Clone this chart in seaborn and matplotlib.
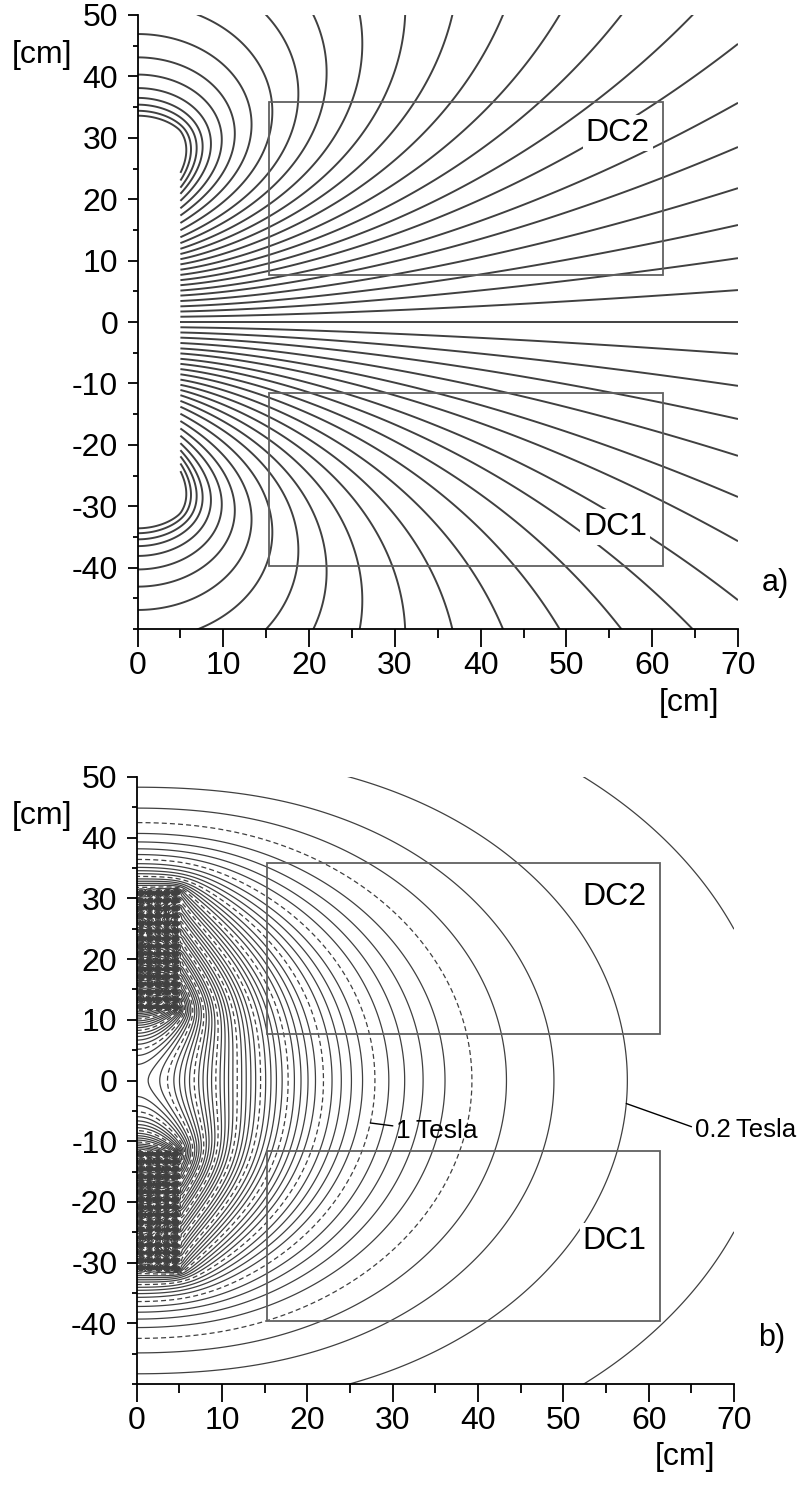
import numpy as np
import matplotlib
matplotlib.use("Agg")
import matplotlib.pyplot as plt
from matplotlib.patches import Rectangle
from matplotlib.ticker import MultipleLocator
import seaborn as sns

sns.set_theme(style="ticks")
plt.rcParams['font.family'] = ['Liberation Sans', 'DejaVu Sans']
plt.rcParams['axes.unicode_minus'] = False

# ------------------------------------------------------------------
# Data
# ------------------------------------------------------------------
# coil winding (axial extent = horizontal axis, radial extent = vertical axis), cm
COIL_Z_RANGE = (-5.0, 5.0)
COIL_R_RANGE = (11.5, 31.5)
COIL_NZ, COIL_NR = 10, 16
# calibration: the 0.2 T contour crosses the axis at x = 57.5 cm
CAL_X, CAL_B = 57.5, 0.2

# panel a: field lines start on the face x = 5 cm; where they leave the frame
FACE_X = 5.0
RIGHT_EXIT_Y = [5.2, 10.4, 15.8, 21.8, 28.5, 35.7, 45.3]           # at x = 70
TOP_EXIT_X = [7.1, 15.0, 20.5, 25.9, 31.2, 36.7, 42.6, 49.2, 56.4, 64.7]  # at |y| = 50
AXIS_RETURN_Y = [33.6, 34.4, 35.4, 36.5, 38.1, 40.3, 43.1, 46.9]    # at x = 0

# drift chambers
DC_X = (15.3, 61.3)
DC2_Y = (7.6, 35.8)
DC1_Y = (-39.7, -11.6)

# panel b: |B| contour levels (Tesla)
B_STEP = 0.1
B_MAX = 8.0
B_DASH_EVERY = 0.5
LABEL_1T = (1.0, -7.0)     # (level, y where the leader touches)
LABEL_02T = (0.2, -3.8)

XLIM = (0, 70)
YLIM = (-50, 50)

LINE_COL = "#404040"
BOX_COL = "#606060"
FS = 23


# ------------------------------------------------------------------
# Field model: axisymmetric coil built from circular current loops
# ------------------------------------------------------------------
def ellipke(m):
    a = np.ones_like(m)
    b = np.sqrt(1.0 - m)
    c = np.sqrt(m)
    s = 0.5 * c ** 2
    p = 1.0
    for _ in range(14):
        a, b, c = (a + b) / 2.0, np.sqrt(a * b), (a - b) / 2.0
        p *= 2.0
        s = s + 0.5 * p * c ** 2
    K = np.pi / (2.0 * a)
    return K, K * (1.0 - s)


def coil_field(X, Y):
    R = np.maximum(np.abs(Y), 1e-3)
    z0, z1 = COIL_Z_RANGE
    r0, r1 = COIL_R_RANGE
    zc = z0 + (np.arange(COIL_NZ) + 0.5) / COIL_NZ * (z1 - z0)
    rc = r0 + (np.arange(COIL_NR) + 0.5) / COIL_NR * (r1 - r0)
    psi = np.zeros_like(R)
    Bz = np.zeros_like(R)
    Br = np.zeros_like(R)
    for a in rc:
        for zz in zc:
            z = X - zz
            s = a * a + R ** 2 + z ** 2
            al2 = s - 2 * a * R
            be2 = s + 2 * a * R
            be = np.sqrt(be2)
            m = np.clip(1.0 - al2 / be2, 0.0, 1 - 1e-12)
            K, E = ellipke(m)
            Bz += (E * (a * a - R ** 2 - z ** 2) + al2 * K) / (2 * al2 * be)
            Br += z * (E * s - al2 * K) / (2 * al2 * be * R)
            k = np.sqrt(np.maximum(m, 1e-30))
            psi += R * np.sqrt(a / R) * ((1 - m / 2) * K - E) / k
    return psi, Bz, Br


xs = np.arange(XLIM[0], XLIM[1] + 0.01, 0.2)
rs = np.arange(0.1, 50.2, 0.2)
ys = np.concatenate([-rs[::-1], rs])
X, Y = np.meshgrid(xs, ys)
PSI, BZ, BR = coil_field(X, Y)

_, bzc, brc = coil_field(np.array([CAL_X]), np.array([0.0]))
scale = CAL_B / np.hypot(bzc, brc)[0]
BMAG = np.hypot(BZ, BR) * scale

# ------------------------------------------------------------------
# Figure
# ------------------------------------------------------------------
W, H = 798, 1486
fig = plt.figure(figsize=(W / 100, H / 100), dpi=100)
ax_a = fig.add_axes([137.5 / W, 1 - 629 / H, (738 - 137.5) / W, (629 - 15) / H])
ax_b = fig.add_axes([136.7 / W, 1 - 1384 / H, (734 - 136.7) / W, (1384 - 777) / H])


def style_axes(ax):
    ax.set_xlim(*XLIM)
    ax.set_ylim(*YLIM)
    sns.despine(ax=ax)
    ax.set_facecolor("white")
    for sp in ("left", "bottom"):
        ax.spines[sp].set_linewidth(1.3)
        ax.spines[sp].set_color("black")
    ax.set_xticks(np.arange(0, 71, 10))
    ax.set_yticks(np.arange(-40, 51, 10))
    ax.xaxis.set_minor_locator(MultipleLocator(5))
    ax.yaxis.set_minor_locator(MultipleLocator(5))
    ax.tick_params(axis="x", which="major", length=13, width=1.3, pad=3,
                   labelsize=FS, color="black", labelcolor="black")
    ax.tick_params(axis="x", which="minor", length=6.5, width=1.3, color="black")
    ax.tick_params(axis="y", which="major", length=7, width=1.3, pad=7,
                   labelsize=FS, color="black", labelcolor="black")
    ax.tick_params(axis="y", which="minor", length=3.6, width=1.3, color="black")
    ax.grid(False)
    ax.text(-11.1, 43.5, "[cm]", fontsize=FS, ha="center", va="center",
            clip_on=False, color="black")
    ax.text(64.3, -62.0, "[cm]", fontsize=FS, ha="center", va="center",
            clip_on=False, color="black")
    for (y0, y1) in (DC2_Y, DC1_Y):
        ax.add_patch(Rectangle((DC_X[0], y0), DC_X[1] - DC_X[0], y1 - y0,
                               fill=False, edgecolor=BOX_COL, lw=1.3, zorder=3))


# ---------------- panel a: field lines ----------------
style_axes(ax_a)
pts_x = np.array([XLIM[1]] * len(RIGHT_EXIT_Y) + TOP_EXIT_X + [0.0] * len(AXIS_RETURN_Y))
pts_y = np.array(RIGHT_EXIT_Y + [YLIM[1]] * len(TOP_EXIT_X) + AXIS_RETURN_Y)
lev_a, _, _ = coil_field(pts_x, pts_y)
lev_a = np.unique(np.sort(lev_a))

# radius of the flux maximum on the mid-plane (centre of the closed loops)
r_o = rs[np.argmax(PSI[len(rs):, 0])]
PSI_M = np.ma.masked_where((X < FACE_X) & (np.abs(Y) < r_o), PSI)
ax_a.contour(X, Y, PSI_M, levels=lev_a, colors=LINE_COL, linewidths=1.4,
             linestyles="solid")
ax_a.hlines(0, FACE_X, XLIM[1], colors=LINE_COL, linewidth=1.4)

bb = dict(facecolor="white", edgecolor="none", pad=2)
ax_a.text(56.0, 30.8, "DC2", fontsize=FS, ha="center", va="center", bbox=bb, zorder=4,
          color="black")
ax_a.text(55.7, -33.4, "DC1", fontsize=FS, ha="center", va="center", bbox=bb, zorder=4,
          color="black")
ax_a.text(72.8, -42.5, "a)", fontsize=22, ha="left", va="center", clip_on=False,
          color="black")

# ---------------- panel b: |B| contours ----------------
style_axes(ax_b)
n_lev = int(round(B_MAX / B_STEP))
lev_b = np.round(B_STEP * np.arange(1, n_lev + 1), 3)
ls_b = [(0, (4, 2.5)) if abs(l / B_DASH_EVERY - round(l / B_DASH_EVERY)) < 1e-6
        else "solid" for l in lev_b]
ax_b.contour(X, Y, BMAG, levels=lev_b, colors=LINE_COL, linewidths=0.9,
             linestyles=ls_b)


def crossing_x(level, yv):
    row = BMAG[np.argmin(np.abs(ys - yv))]
    idx = np.where((row[:-1] - level) * (row[1:] - level) <= 0)[0]
    i = idx[-1]
    f = (level - row[i]) / (row[i + 1] - row[i])
    return xs[i] + f * (xs[i + 1] - xs[i])


x1 = crossing_x(*LABEL_1T)
ax_b.annotate("1\u2009Tesla", xy=(x1, LABEL_1T[1]), xytext=(30.4, -8.4),
              fontsize=19, ha="left", va="center", color="black",
              arrowprops=dict(arrowstyle="-", color="black", lw=1.0,
                              shrinkA=0, shrinkB=0))
x02 = crossing_x(*LABEL_02T)
ax_b.annotate("0.2\u2009Tesla", xy=(x02, LABEL_02T[1]), xytext=(65.4, -8.2),
              fontsize=18.5, ha="left", va="center", annotation_clip=False,
              color="black",
              arrowprops=dict(arrowstyle="-", color="black", lw=1.0,
                              shrinkA=0, shrinkB=0, relpos=(0, 0.6)))
ax_b.text(56.0, 30.3, "DC2", fontsize=FS, ha="center", va="center", bbox=bb, zorder=4,
          color="black")
ax_b.text(56.0, -26.5, "DC1", fontsize=FS, ha="center", va="center", bbox=bb, zorder=4,
          color="black")
ax_b.text(72.8, -42.5, "b)", fontsize=22, ha="left", va="center", clip_on=False,
          color="black")

fig.savefig("out.png", dpi=100, facecolor="white")
